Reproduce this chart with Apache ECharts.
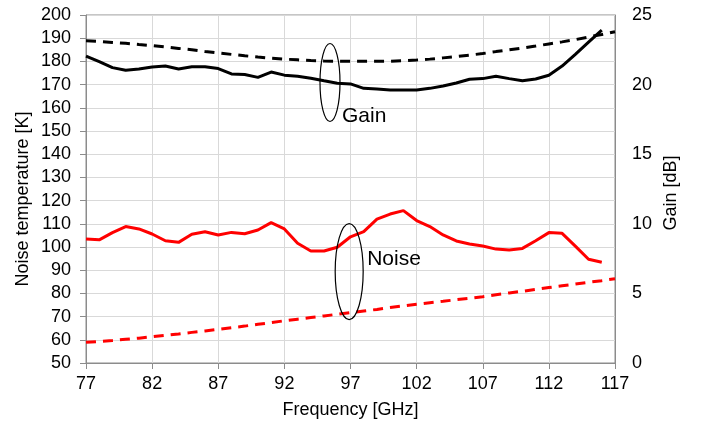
<!DOCTYPE html>
<html>
<head>
<meta charset="utf-8">
<script src="https://cdn.jsdelivr.net/npm/echarts@6/dist/echarts.min.js"></script>
<style>
  html, body { margin: 0; padding: 0; background: #fff; }
  #chart { width: 704px; height: 426px; }
</style>
</head>
<body>
<div id="chart"></div>
<script>
// 频率轴 (GHz)，每 1 GHz 一个点
const freqs = [77, 78, 79, 80, 81, 82, 83, 84, 85, 86, 87, 88, 89, 90, 91, 92, 93, 94, 95, 96,
  97, 98, 99, 100, 101, 102, 103, 104, 105, 106, 107, 108, 109, 110, 111, 112, 113, 114, 115, 116, 117];

// 增益 测量值 (dB)，77-116 GHz
const gainMeasured = [22.05, 21.65, 21.22, 21.03, 21.12, 21.27, 21.33, 21.12, 21.28, 21.28,
  21.15, 20.77, 20.72, 20.52, 20.90, 20.68, 20.60, 20.45, 20.27, 20.10,
  20.05, 19.73, 19.68, 19.62, 19.62, 19.62, 19.73, 19.90, 20.12, 20.38,
  20.43, 20.60, 20.43, 20.28, 20.40, 20.67, 21.33, 22.17, 23.05, 23.92];

// 增益 仿真值 (dB)
const gainSimulated = [23.15, 23.10, 23.03, 22.97, 22.88, 22.80, 22.70, 22.60, 22.50, 22.38,
  22.27, 22.17, 22.07, 21.98, 21.90, 21.83, 21.78, 21.73, 21.70, 21.68,
  21.67, 21.67, 21.67, 21.68, 21.72, 21.77, 21.83, 21.92, 22.02, 22.12,
  22.23, 22.37, 22.50, 22.63, 22.77, 22.92, 23.07, 23.23, 23.42, 23.60, 23.80];

// 噪声温度 测量值 (K)，77-116 GHz
const noiseMeasured = [103.4, 103.1, 106.2, 108.8, 107.8, 105.6, 102.7, 102.0, 105.5, 106.6,
  105.2, 106.3, 105.7, 107.3, 110.5, 107.8, 101.6, 98.3, 98.3, 99.9,
  104.4, 106.6, 112.0, 114.2, 115.7, 111.4, 108.8, 105.2, 102.6, 101.3,
  100.4, 99.1, 98.7, 99.4, 102.7, 106.2, 105.9, 100.4, 94.7, 93.4];

// 噪声温度 仿真值 (K)
const noiseSimulated = [58.9, 59.3, 59.7, 60.2, 60.7, 61.3, 61.9, 62.5, 63.2, 63.8,
  64.5, 65.2, 65.9, 66.7, 67.4, 68.2, 68.9, 69.6, 70.3, 71.0,
  71.7, 72.4, 73.1, 73.9, 74.6, 75.3, 76.0, 76.6, 77.3, 77.9,
  78.6, 79.4, 80.2, 80.9, 81.7, 82.5, 83.3, 84.0, 84.8, 85.5, 86.3];

const FONT = '"Liberation Sans", Arial, sans-serif';
const AXIS_COLOR = '#8c8c8c';
const GRID_COLOR = '#d9d9d9';

const chart = echarts.init(document.getElementById('chart'), null, { renderer: 'canvas' });

const option = {
  animation: false,
  backgroundColor: '#fff',
  grid: {
    left: 86,
    right: 89,
    top: 15,
    bottom: 63,
    show: true,
    borderColor: '#8c8c8c',
    borderWidth: 1
  },
  xAxis: {
    type: 'category',
    data: freqs,
    boundaryGap: false,
    name: 'Frequency [GHz]',
    nameLocation: 'middle',
    nameGap: 38,
    nameTextStyle: { color: '#000', fontSize: 18, fontFamily: FONT },
    axisLine: { lineStyle: { color: AXIS_COLOR, width: 1 } },
    axisTick: { show: true, interval: 4, length: 6, lineStyle: { color: AXIS_COLOR } },
    axisLabel: { interval: 4, color: '#000', fontSize: 18, fontFamily: FONT, margin: 12 },
    splitLine: { show: true, interval: 4, lineStyle: { color: GRID_COLOR } }
  },
  yAxis: [
    {
      type: 'value',
      min: 50,
      max: 200,
      interval: 10,
      position: 'left',
      axisLine: { show: true, lineStyle: { color: AXIS_COLOR, width: 1 } },
      axisTick: { show: true, length: 6, lineStyle: { color: AXIS_COLOR } },
      axisLabel: { color: '#000', fontSize: 18, fontFamily: FONT, margin: 15 },
      splitLine: { show: true, lineStyle: { color: GRID_COLOR } }
    },
    {
      type: 'value',
      min: 0,
      max: 25,
      interval: 5,
      position: 'right',
      axisLine: { show: true, lineStyle: { color: AXIS_COLOR, width: 1 } },
      axisTick: { show: false },
      axisLabel: { color: '#000', fontSize: 18, fontFamily: FONT, margin: 17 },
      splitLine: { show: false }
    }
  ],
  series: [
    {
      name: 'Gain simulated',
      type: 'line',
      yAxisIndex: 1,
      data: gainSimulated,
      symbol: 'none',
      lineStyle: { color: '#000', width: 3, type: [10, 7] },
      z: 3
    },
    {
      name: 'Gain measured',
      type: 'line',
      yAxisIndex: 1,
      data: gainMeasured,
      symbol: 'none',
      lineStyle: { color: '#000', width: 3 },
      z: 4
    },
    {
      name: 'Noise simulated',
      type: 'line',
      yAxisIndex: 0,
      data: noiseSimulated,
      symbol: 'none',
      lineStyle: { color: '#ff0000', width: 3, type: [10, 7] },
      z: 3
    },
    {
      name: 'Noise measured',
      type: 'line',
      yAxisIndex: 0,
      data: noiseMeasured,
      symbol: 'none',
      lineStyle: { color: '#ff0000', width: 3 },
      z: 4
    }
  ]
};

chart.setOption(option);

// 标注：椭圆 + 文字，位置按数据坐标换算
function px(f, k) {
  return chart.convertToPixel({ xAxisIndex: 0, yAxisIndex: 0 }, [String(f), k]);
}
function catPx(f, k) {
  // 类目轴上的小数位置：在相邻两个整数频点之间插值
  const lo = Math.floor(f);
  const a = px(lo, k);
  const b = px(lo + 1, k);
  return [a[0] + (b[0] - a[0]) * (f - lo), a[1]];
}

const gainC = catPx(95.45, 170.9);
const noiseC = catPx(96.9, 89.4);

chart.setOption({
  graphic: [
    {
      type: 'ellipse',
      shape: { cx: gainC[0], cy: gainC[1], rx: 10, ry: 39 },
      style: { fill: 'none', stroke: '#000', lineWidth: 1.2 },
      z: 10
    },
    {
      type: 'text',
      left: gainC[0] + 12,
      top: 106,
      style: { text: 'Gain', fill: '#000', font: '21px ' + FONT },
      z: 10
    },
    {
      type: 'ellipse',
      shape: { cx: noiseC[0], cy: noiseC[1], rx: 14, ry: 48 },
      style: { fill: 'none', stroke: '#000', lineWidth: 1.2 },
      z: 10
    },
    {
      type: 'text',
      left: noiseC[0] + 18,
      top: 249,
      style: { text: 'Noise', fill: '#000', font: '21px ' + FONT },
      z: 10
    },
    {
      type: 'text',
      x: 14,
      y: 199,
      rotation: Math.PI / 2,
      style: {
        text: 'Noise temperature [K]',
        fill: '#000',
        font: '18px ' + FONT,
        align: 'center',
        verticalAlign: 'top'
      }
    },
    {
      type: 'text',
      x: 662,
      y: 193,
      rotation: Math.PI / 2,
      style: {
        text: 'Gain [dB]',
        fill: '#000',
        font: '18px ' + FONT,
        align: 'center',
        verticalAlign: 'top'
      }
    }
  ]
});
</script>
</body>
</html>
